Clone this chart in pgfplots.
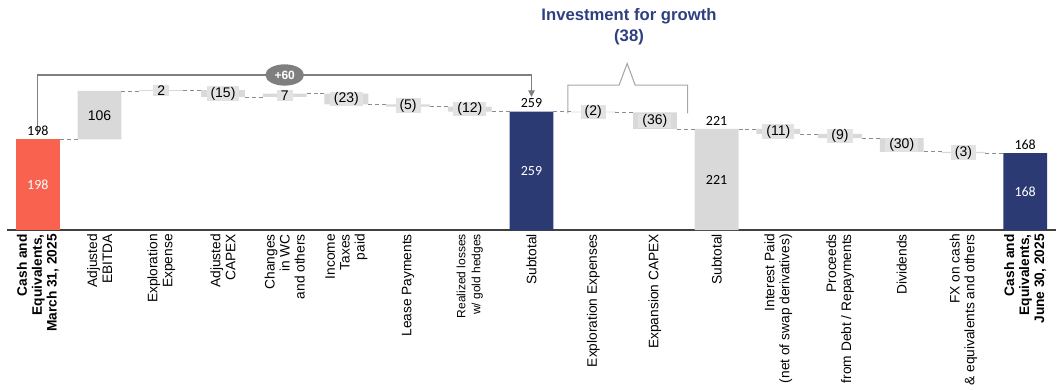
\documentclass[border=0pt]{standalone}
\usepackage{fontspec}
\setmainfont{Liberation Sans}
\newfontfamily\calib{Carlito}
\usepackage{pgfplots}
\pgfplotsset{compat=1.18}
\usetikzlibrary{arrows.meta,shapes.geometric}
\definecolor{coral}{HTML}{F8624F}
\definecolor{navy}{HTML}{2B3A72}
\definecolor{lgray}{HTML}{D9D9D9}
\definecolor{lblgray}{HTML}{E2E2E2}
\definecolor{dgray}{HTML}{7F7F7F}
\definecolor{cgray}{HTML}{8C8C8C}
\definecolor{bgray}{HTML}{A6A6A6}
\definecolor{titleblue}{HTML}{2E3F80}
\begin{document}
\begin{tikzpicture}
\useasboundingbox (-5.25pt,-119.25pt) rectangle (792pt,172.5pt);
\pgfplotsset{common/.style={width=786.75pt,height=172.5pt,scale only axis,
  at={(0pt,0pt)},anchor=south west,xmin=-0.5,xmax=16.5,ymin=0,ymax=503,clip=false}}
\begin{axis}[common, ybar stacked, bar width=0.71,
  axis y line=none, axis x line*=bottom,
  x axis line style={black!75, line width=0.8pt},
  ytick=\empty, xtick={0,...,16}, major tick length=0pt, xtick style={draw=none},
  xticklabel style={rotate=90, anchor=east, align=right,
    font=\fontsize{10.3}{11.2}\selectfont, inner sep=3pt},
  xticklabels={
    {\textbf{Cash and}\\\textbf{Equivalents,}\\\textbf{March 31, 2025}},
    {Adjusted\\EBITDA},
    {Exploration\\Expense},
    {Adjusted\\CAPEX},
    {Changes\\in WC\\and others},
    {Income\\Taxes\\paid},
    {Lease Payments},
    {\fontsize{9}{10}\selectfont Realized losses\\\fontsize{9}{10}\selectfont w/ gold hedges},
    {Subtotal},
    {Exploration Expenses},
    {Expansion CAPEX},
    {Subtotal},
    {Interest Paid\\(net of swap derivatives)},
    {Proceeds\\from Debt / Repayments},
    {Dividends},
    {FX on cash\\\& equivalents and others},
    {\textbf{Cash and}\\\textbf{Equivalents,}\\\textbf{June 30, 2025}}
  }]
% invisible base
\addplot[fill=none, draw=none] coordinates {(0,0)(1,198)(2,304)(3,291)(4,291)(5,275)(6,270)(7,259)(8,0)(9,257)(10,221)(11,0)(12,210)(13,201)(14,171)(15,168)(16,0)};
\addplot[fill=coral, draw=none] coordinates {(0,198)(1,0)(2,0)(3,0)(4,0)(5,0)(6,0)(7,0)(8,0)(9,0)(10,0)(11,0)(12,0)(13,0)(14,0)(15,0)(16,0)};
\addplot[fill=lgray, draw=none] coordinates {(0,0)(1,106)(2,2)(3,15)(4,7)(5,23)(6,5)(7,11)(8,0)(9,2)(10,36)(11,221)(12,11)(13,9)(14,30)(15,3)(16,0)};
\addplot[fill=navy, draw=none] coordinates {(0,0)(1,0)(2,0)(3,0)(4,0)(5,0)(6,0)(7,0)(8,259)(9,0)(10,0)(11,0)(12,0)(13,0)(14,0)(15,0)(16,168)};
\end{axis}
\begin{axis}[common, hide axis]
% connectors
\addplot[cgray, line width=0.6pt, dash pattern=on 3pt off 2.2pt, unbounded coords=jump] coordinates {
(0.355,198)(0.645,198)(0.7,nan)
(1.355,304)(1.645,304)(1.7,nan)
(2.355,306)(2.645,306)(2.7,nan)
(3.355,291)(3.645,291)(3.7,nan)
(4.355,298)(4.645,298)(4.7,nan)
(5.355,275)(5.645,275)(5.7,nan)
(6.355,270)(6.645,270)(6.7,nan)
(7.355,259)(7.645,259)(7.7,nan)
(8.355,259)(8.645,259)(8.7,nan)
(9.355,257)(9.645,257)(9.7,nan)
(10.355,221)(10.645,221)(10.7,nan)
(11.355,221)(11.645,221)(11.7,nan)
(12.355,210)(12.645,210)(12.7,nan)
(13.355,201)(13.645,201)(13.7,nan)
(14.355,171)(14.645,171)(14.7,nan)
(15.355,168)(15.645,168)};
% delta labels
\addplot[draw=none, nodes near coords, point meta=explicit symbolic,
  every node near coord/.style={anchor=center, fill=lblgray, draw=none, text=black,
  inner xsep=3pt, inner ysep=0.5pt, font=\fontsize{10.5}{12}\selectfont}]
  table[meta=lab] {
x y lab
2 305 2
3 298.5 (15)
4 294.5 7
5 286.5 (23)
6 272.5 (5)
7 264.5 (12)
9 258 (2)
10 239 (36)
12 215.5 (11)
13 205.5 (9)
14 186 (30)
15 169.5 (3)
};
% inside labels (black)
\addplot[draw=none, nodes near coords, point meta=explicit symbolic,
  every node near coord/.style={anchor=center, text=black, font=\fontsize{10.5}{12}\selectfont}]
  table[meta=lab] {
x y lab
1 251 106
};
\addplot[draw=none, nodes near coords, point meta=explicit symbolic,
  every node near coord/.style={anchor=center, text=black, font=\calib\fontsize{10.5}{12}\selectfont}]
  table[meta=lab] {
x y lab
11 110.5 221
};
% inside labels (white)
\addplot[draw=none, nodes near coords, point meta=explicit symbolic,
  every node near coord/.style={anchor=center, text=white, font=\calib\fontsize{10.5}{12}\selectfont}]
  table[meta=lab] {
x y lab
0 99 198
8 129.5 259
16 84 168
};
% top labels
\addplot[draw=none, nodes near coords, point meta=explicit symbolic,
  every node near coord/.style={anchor=south, text=black, inner sep=2.5pt, font=\calib\fontsize{10.5}{12}\selectfont}]
  table[meta=lab] {
x y lab
0 198 198
8 259 259
11 221 221
16 168 168
};
% +60 bracket
\draw[dgray, line width=0.8pt, -{Triangle[width=5pt,length=5pt]}]
  (axis cs:0,208) -- (axis cs:0,339) -- (axis cs:8,339) -- (axis cs:8,291);
\node[ellipse, fill=dgray, minimum width=29pt, minimum height=16pt, inner sep=0pt,
  text=white, font=\bfseries\fontsize{9}{10}\selectfont] at (axis cs:4,339) {+60};
% investment bracket
\draw[bgray, line width=0.8pt]
  (axis cs:8.59,255) -- (axis cs:8.59,317) -- (axis cs:9.42,317) -- (axis cs:9.55,364)
  -- (axis cs:9.68,317) -- (axis cs:10.53,317) -- (axis cs:10.53,255);
\node[text=titleblue, font=\bfseries\fontsize{12.5}{14}\selectfont] at (axis cs:9.58,467) {Investment for growth};
\node[text=titleblue, font=\bfseries\fontsize{12.5}{14}\selectfont] at (axis cs:9.58,422) {(38)};
\end{axis}
\end{tikzpicture}
\end{document}
